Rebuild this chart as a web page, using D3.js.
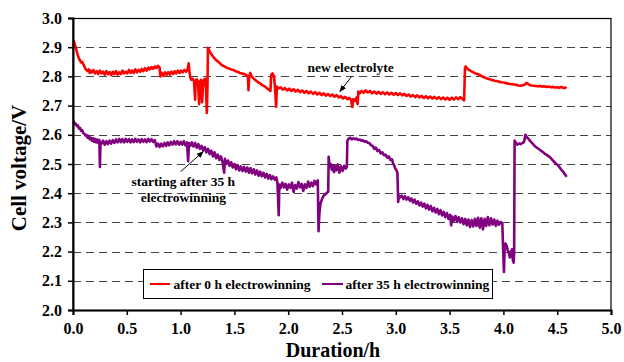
<!DOCTYPE html>
<html><head><meta charset="utf-8">
<script src="https://cdn.jsdelivr.net/npm/d3@7"></script>
<style>
html,body{margin:0;padding:0;background:#fff;}
text{font-family:"Liberation Serif","Times New Roman",serif;font-weight:bold;fill:#000;}
</style></head>
<body><svg id="c" width="624" height="362"></svg>
<script>
const xTicks = [0,0.5,1,1.5,2,2.5,3,3.5,4,4.5,5];
const yTicks = [2.0,2.1,2.2,2.3,2.4,2.5,2.6,2.7,2.8,2.9,3.0];
const gridValues = [2.1,2.2,2.3,2.4,2.5,2.6,2.7,2.8,2.9];
const seriesNames = ["after 0 h electrowinning","after 35 h electrowinning"];
const seriesColors = ["#ff0000","#800080"];

const red0h = [[0.000,2.905],[0.008,2.920],[0.015,2.912],[0.025,2.900],[0.035,2.885],[0.045,2.872],[0.055,2.862],[0.065,2.855],[0.075,2.848],[0.085,2.850],[0.095,2.842],[0.105,2.835],[0.115,2.826],[0.125,2.822],[0.135,2.818],[0.145,2.824],[0.155,2.812],[0.165,2.820],[0.175,2.814],[0.19,2.822],[0.205,2.810],[0.22,2.818],[0.235,2.808],[0.25,2.820],[0.265,2.810],[0.28,2.816],[0.295,2.806],[0.31,2.818],[0.325,2.808],[0.34,2.815],[0.355,2.804],[0.37,2.816],[0.385,2.808],[0.40,2.818],[0.415,2.806],[0.43,2.814],[0.445,2.808],[0.46,2.820],[0.475,2.810],[0.49,2.816],[0.505,2.810],[0.52,2.822],[0.535,2.812],[0.55,2.820],[0.565,2.812],[0.58,2.824],[0.595,2.814],[0.61,2.822],[0.625,2.816],[0.64,2.826],[0.655,2.818],[0.67,2.828],[0.685,2.820],[0.70,2.830],[0.715,2.824],[0.73,2.832],[0.745,2.826],[0.76,2.834],[0.775,2.828],[0.79,2.836],[0.805,2.830],[0.812,2.800],[0.825,2.812],[0.84,2.802],[0.855,2.814],[0.87,2.805],[0.885,2.815],[0.90,2.806],[0.915,2.816],[0.93,2.808],[0.945,2.818],[0.96,2.810],[0.975,2.820],[0.99,2.812],[1.005,2.820],[1.02,2.814],[1.035,2.822],[1.05,2.816],[1.065,2.824],[1.075,2.845],[1.082,2.818],[1.09,2.795],[1.10,2.788],[1.112,2.792],[1.125,2.784],[1.135,2.720],[1.14,2.786],[1.15,2.790],[1.162,2.782],[1.172,2.705],[1.178,2.780],[1.19,2.788],[1.20,2.712],[1.207,2.760],[1.215,2.788],[1.228,2.792],[1.236,2.760],[1.244,2.675],[1.25,2.770],[1.254,2.898],[1.26,2.894],[1.275,2.882],[1.29,2.874],[1.305,2.866],[1.32,2.860],[1.335,2.854],[1.35,2.850],[1.365,2.845],[1.38,2.840],[1.395,2.836],[1.41,2.834],[1.425,2.830],[1.44,2.828],[1.455,2.826],[1.47,2.824],[1.49,2.822],[1.51,2.818],[1.53,2.816],[1.55,2.812],[1.57,2.810],[1.59,2.808],[1.61,2.805],[1.625,2.800],[1.631,2.753],[1.638,2.800],[1.647,2.812],[1.66,2.800],[1.68,2.792],[1.70,2.786],[1.72,2.780],[1.74,2.776],[1.76,2.770],[1.78,2.766],[1.80,2.760],[1.82,2.755],[1.835,2.750],[1.842,2.806],[1.855,2.810],[1.868,2.800],[1.878,2.760],[1.888,2.696],[1.895,2.765],[1.91,2.759],[1.93,2.762],[1.95,2.755],[1.97,2.760],[1.99,2.752],[2.01,2.758],[2.03,2.750],[2.05,2.756],[2.07,2.748],[2.09,2.754],[2.11,2.746],[2.13,2.752],[2.15,2.744],[2.17,2.750],[2.19,2.742],[2.21,2.748],[2.23,2.740],[2.25,2.746],[2.27,2.738],[2.29,2.744],[2.31,2.736],[2.33,2.742],[2.35,2.734],[2.37,2.740],[2.39,2.733],[2.41,2.738],[2.43,2.730],[2.45,2.736],[2.47,2.728],[2.49,2.732],[2.51,2.724],[2.53,2.730],[2.55,2.722],[2.57,2.726],[2.585,2.718],[2.595,2.695],[2.605,2.722],[2.62,2.716],[2.635,2.728],[2.645,2.705],[2.652,2.748],[2.665,2.742],[2.68,2.750],[2.70,2.744],[2.72,2.752],[2.74,2.745],[2.76,2.750],[2.78,2.742],[2.80,2.748],[2.82,2.741],[2.84,2.747],[2.86,2.740],[2.88,2.746],[2.90,2.739],[2.92,2.745],[2.94,2.738],[2.96,2.744],[2.98,2.737],[3.00,2.743],[3.02,2.736],[3.04,2.742],[3.06,2.735],[3.08,2.740],[3.10,2.733],[3.12,2.738],[3.14,2.731],[3.16,2.736],[3.18,2.729],[3.20,2.735],[3.22,2.728],[3.24,2.733],[3.26,2.726],[3.28,2.732],[3.30,2.725],[3.32,2.731],[3.34,2.724],[3.36,2.730],[3.38,2.723],[3.40,2.729],[3.42,2.722],[3.44,2.728],[3.46,2.721],[3.48,2.727],[3.50,2.720],[3.52,2.727],[3.54,2.721],[3.56,2.728],[3.58,2.722],[3.60,2.729],[3.62,2.722],[3.635,2.718],[3.643,2.830],[3.65,2.834],[3.66,2.828],[3.68,2.822],[3.70,2.818],[3.72,2.814],[3.74,2.810],[3.76,2.808],[3.78,2.805],[3.80,2.800],[3.82,2.797],[3.84,2.794],[3.86,2.792],[3.88,2.789],[3.90,2.787],[3.92,2.785],[3.94,2.784],[3.96,2.782],[3.98,2.780],[4.00,2.779],[4.02,2.777],[4.04,2.776],[4.06,2.774],[4.08,2.773],[4.10,2.772],[4.12,2.771],[4.14,2.769],[4.16,2.768],[4.18,2.770],[4.20,2.772],[4.215,2.778],[4.225,2.776],[4.24,2.771],[4.26,2.769],[4.28,2.768],[4.30,2.767],[4.32,2.766],[4.34,2.767],[4.36,2.765],[4.38,2.766],[4.40,2.764],[4.42,2.765],[4.44,2.763],[4.46,2.764],[4.48,2.762],[4.50,2.763],[4.52,2.761],[4.54,2.764],[4.56,2.760],[4.575,2.762],[4.586,2.759]];

const purple35h = [[0.000,2.640],[0.008,2.645],[0.016,2.636],[0.025,2.638],[0.035,2.630],[0.045,2.632],[0.055,2.622],[0.065,2.624],[0.075,2.614],[0.085,2.616],[0.095,2.606],[0.105,2.604],[0.115,2.598],[0.125,2.600],[0.135,2.590],[0.145,2.596],[0.155,2.585],[0.165,2.590],[0.175,2.580],[0.185,2.588],[0.195,2.576],[0.205,2.586],[0.215,2.574],[0.225,2.584],[0.235,2.572],[0.245,2.582],[0.250,2.490],[0.256,2.576],[0.265,2.570],[0.28,2.580],[0.295,2.566],[0.31,2.578],[0.325,2.568],[0.34,2.580],[0.355,2.570],[0.37,2.582],[0.385,2.572],[0.40,2.584],[0.415,2.574],[0.43,2.586],[0.445,2.575],[0.46,2.585],[0.475,2.574],[0.49,2.586],[0.505,2.576],[0.52,2.585],[0.535,2.574],[0.55,2.584],[0.565,2.575],[0.58,2.586],[0.595,2.576],[0.61,2.584],[0.625,2.574],[0.64,2.585],[0.655,2.576],[0.67,2.584],[0.685,2.575],[0.70,2.586],[0.715,2.577],[0.73,2.585],[0.745,2.576],[0.76,2.582],[0.775,2.560],[0.79,2.570],[0.805,2.558],[0.82,2.570],[0.835,2.560],[0.85,2.572],[0.865,2.562],[0.88,2.574],[0.895,2.564],[0.91,2.576],[0.925,2.566],[0.94,2.578],[0.955,2.567],[0.97,2.578],[0.985,2.566],[1.00,2.576],[1.015,2.566],[1.03,2.578],[1.045,2.564],[1.06,2.574],[1.07,2.510],[1.078,2.572],[1.09,2.562],[1.105,2.574],[1.12,2.560],[1.135,2.572],[1.15,2.556],[1.165,2.568],[1.18,2.552],[1.195,2.562],[1.21,2.546],[1.225,2.558],[1.24,2.540],[1.255,2.552],[1.27,2.534],[1.285,2.546],[1.30,2.526],[1.315,2.540],[1.33,2.520],[1.345,2.532],[1.36,2.514],[1.375,2.526],[1.39,2.506],[1.405,2.470],[1.412,2.518],[1.425,2.500],[1.44,2.512],[1.455,2.494],[1.47,2.506],[1.485,2.488],[1.50,2.500],[1.515,2.482],[1.53,2.496],[1.545,2.478],[1.56,2.492],[1.575,2.476],[1.59,2.490],[1.605,2.474],[1.62,2.488],[1.635,2.470],[1.65,2.486],[1.665,2.468],[1.68,2.482],[1.695,2.464],[1.71,2.478],[1.725,2.460],[1.74,2.474],[1.755,2.458],[1.77,2.470],[1.785,2.454],[1.80,2.466],[1.815,2.450],[1.83,2.462],[1.845,2.448],[1.86,2.458],[1.875,2.446],[1.89,2.454],[1.90,2.436],[1.912,2.325],[1.918,2.430],[1.93,2.418],[1.945,2.436],[1.96,2.420],[1.975,2.432],[1.99,2.412],[2.005,2.430],[2.02,2.418],[2.035,2.436],[2.05,2.404],[2.065,2.428],[2.08,2.416],[2.095,2.438],[2.11,2.420],[2.125,2.432],[2.14,2.408],[2.155,2.430],[2.17,2.418],[2.185,2.440],[2.20,2.422],[2.215,2.436],[2.23,2.424],[2.245,2.442],[2.26,2.430],[2.275,2.444],[2.282,2.270],[2.29,2.330],[2.30,2.365],[2.315,2.380],[2.33,2.392],[2.345,2.396],[2.36,2.402],[2.372,2.405],[2.376,2.525],[2.385,2.490],[2.395,2.500],[2.405,2.480],[2.415,2.496],[2.425,2.472],[2.435,2.492],[2.445,2.478],[2.46,2.498],[2.475,2.470],[2.49,2.492],[2.505,2.476],[2.52,2.494],[2.535,2.484],[2.545,2.490],[2.55,2.580],[2.56,2.586],[2.575,2.590],[2.59,2.584],[2.605,2.588],[2.62,2.585],[2.635,2.587],[2.65,2.582],[2.665,2.584],[2.68,2.580],[2.695,2.581],[2.71,2.576],[2.725,2.578],[2.74,2.572],[2.755,2.572],[2.77,2.564],[2.785,2.562],[2.80,2.552],[2.815,2.556],[2.83,2.544],[2.845,2.548],[2.86,2.536],[2.875,2.540],[2.89,2.530],[2.905,2.532],[2.92,2.522],[2.935,2.526],[2.95,2.514],[2.965,2.516],[2.975,2.502],[2.985,2.495],[2.995,2.484],[3.005,2.480],[3.015,2.470],[3.022,2.370],[3.03,2.392],[3.04,2.386],[3.055,2.392],[3.07,2.380],[3.085,2.390],[3.10,2.378],[3.115,2.386],[3.13,2.374],[3.145,2.382],[3.16,2.368],[3.175,2.378],[3.19,2.364],[3.205,2.372],[3.22,2.358],[3.235,2.368],[3.25,2.354],[3.265,2.364],[3.28,2.348],[3.295,2.360],[3.31,2.344],[3.325,2.356],[3.34,2.338],[3.355,2.350],[3.37,2.334],[3.385,2.346],[3.40,2.328],[3.415,2.342],[3.43,2.324],[3.445,2.336],[3.46,2.318],[3.475,2.332],[3.49,2.312],[3.505,2.326],[3.515,2.290],[3.525,2.320],[3.54,2.306],[3.555,2.322],[3.57,2.302],[3.585,2.318],[3.60,2.300],[3.615,2.314],[3.63,2.294],[3.645,2.312],[3.66,2.290],[3.675,2.310],[3.69,2.284],[3.705,2.308],[3.72,2.286],[3.735,2.312],[3.75,2.288],[3.765,2.316],[3.78,2.282],[3.795,2.314],[3.81,2.276],[3.825,2.312],[3.84,2.288],[3.855,2.318],[3.87,2.290],[3.885,2.314],[3.90,2.292],[3.915,2.310],[3.93,2.288],[3.945,2.306],[3.96,2.292],[3.975,2.302],[3.99,2.296],[3.996,2.225],[4.005,2.130],[4.012,2.215],[4.02,2.228],[4.03,2.220],[4.04,2.205],[4.05,2.196],[4.06,2.180],[4.07,2.200],[4.08,2.208],[4.088,2.170],[4.095,2.162],[4.100,2.200],[4.104,2.580],[4.115,2.574],[4.13,2.566],[4.145,2.570],[4.16,2.568],[4.175,2.572],[4.19,2.574],[4.198,2.586],[4.205,2.600],[4.212,2.596],[4.22,2.590],[4.235,2.586],[4.25,2.578],[4.265,2.572],[4.28,2.566],[4.295,2.560],[4.31,2.556],[4.325,2.552],[4.34,2.548],[4.355,2.544],[4.37,2.540],[4.385,2.535],[4.40,2.532],[4.415,2.528],[4.43,2.524],[4.445,2.518],[4.46,2.512],[4.475,2.506],[4.49,2.500],[4.505,2.496],[4.52,2.490],[4.535,2.482],[4.55,2.476],[4.565,2.468],[4.578,2.462],[4.586,2.456]];

const annotations = [
  {lines:["new electrolyte"], at:[2.58,2.816], arrowFrom:[2.59,2.800], arrowTo:[2.48,2.748]},
  {lines:["starting after 35 h","electrowinning"], at:[1.025,2.426], arrowFrom:[1.0,2.474], arrowTo:[1.21,2.542]}
];

const svg = d3.select("#c");
const L=73, T=18, W=538, H=292;
const x = d3.scaleLinear().domain([0,5]).range([L, L+W]);
const y = d3.scaleLinear().domain([2,3]).range([T+H, T]);

// grid
svg.append("g").selectAll("line").data(gridValues).join("line")
  .attr("x1", x(0)).attr("x2", x(5))
  .attr("y1", d=>Math.round(y(d))+0.5).attr("y2", d=>Math.round(y(d))+0.5)
  .attr("stroke", "#444").attr("stroke-width", 1).attr("stroke-dasharray", "8,5");

// frame
svg.append("rect").attr("x", L).attr("y", T+0.5).attr("width", W).attr("height", H)
  .attr("fill","none").attr("stroke","#000").attr("stroke-width",1.2);

// series
const line = d3.line().x(d=>x(d[0])).y(d=>y(d[1]));
[red0h, purple35h].forEach((s,i)=>{
  svg.append("path").datum(s).attr("d", line).attr("fill","none")
    .attr("stroke", seriesColors[i]).attr("stroke-width", 2.6).attr("stroke-linejoin","round");
});

// axes
const xAxis = svg.append("g").attr("transform",`translate(0,${T+H})`)
  .call(d3.axisBottom(x).tickValues(xTicks).tickFormat(d3.format(".1f")).tickSize(5).tickPadding(8));
const yAxis = svg.append("g").attr("transform",`translate(${L},0)`)
  .call(d3.axisLeft(y).tickValues(yTicks).tickFormat(d3.format(".1f")).tickSize(5).tickPadding(6));
[xAxis,yAxis].forEach(a=>{
  a.select(".domain").attr("stroke","#000").attr("stroke-width",2);
  a.selectAll(".tick line").attr("stroke","#000").attr("stroke-width",1.5);
  a.selectAll("text").attr("font-size",16).style("font-family","'Liberation Serif',serif").style("font-weight","bold").attr("fill","#000");
});

// axis titles
svg.append("text").attr("x", 333).attr("y", 357).attr("text-anchor","middle").attr("font-size",20).text("Duration/h");
svg.append("text").attr("transform","translate(26,168) rotate(-90)").attr("text-anchor","middle").attr("font-size",21).text("Cell voltage/V");

// annotations
const defs = svg.append("defs");
defs.append("marker").attr("id","ah").attr("viewBox","0 0 10 10").attr("refX",9).attr("refY",5)
  .attr("markerWidth",7).attr("markerHeight",7).attr("orient","auto")
  .append("path").attr("d","M0,1 L10,5 L0,9 Z").attr("fill","#000");
annotations.forEach(a=>{
  a.lines.forEach((t,i)=>{
    svg.append("text").attr("x", x(a.at[0])).attr("y", y(a.at[1]) + i*16.5)
      .attr("text-anchor","middle").attr("font-size",13.5).text(t);
  });
  svg.append("line").attr("x1",x(a.arrowFrom[0])).attr("y1",y(a.arrowFrom[1]))
    .attr("x2",x(a.arrowTo[0])).attr("y2",y(a.arrowTo[1]))
    .attr("stroke","#000").attr("stroke-width",1).attr("marker-end","url(#ah)");
});

// legend
const lg = svg.append("g");
lg.append("rect").attr("x",143.5).attr("y",269.5).attr("width",349).attr("height",29)
  .attr("fill","#fff").attr("stroke","#000").attr("stroke-width",1);
const legX = [[150,170,173.5],[322,343,345.5]];
seriesNames.forEach((n,i)=>{
  lg.append("line").attr("x1",legX[i][0]).attr("x2",legX[i][1]).attr("y1",284).attr("y2",284)
    .attr("stroke",seriesColors[i]).attr("stroke-width",2);
  lg.append("text").attr("x",legX[i][2]).attr("y",288.5).attr("font-size",13.5).text(n);
});
</script></body></html>
